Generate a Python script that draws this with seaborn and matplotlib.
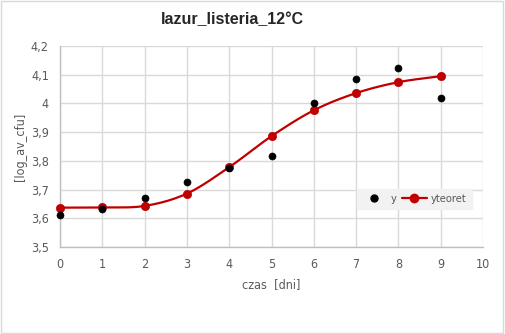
import numpy as np
import pandas as pd
import matplotlib
matplotlib.use('Agg')
import matplotlib.pyplot as plt
import seaborn as sns
from matplotlib.lines import Line2D
from matplotlib.patches import Rectangle

# dane
czas = [0, 1, 2, 3, 4, 5, 6, 7, 8, 9]
y = [3.611, 3.632, 3.669, 3.726, 3.776, 3.817, 4.002, 4.086, 4.125, 4.020]
yteoret = [3.637, 3.638, 3.643, 3.686, 3.778, 3.886, 3.976, 4.036, 4.074, 4.095]
xticks = [0, 1, 2, 3, 4, 5, 6, 7, 8, 9, 10]
yticks = [3.5, 3.6, 3.7, 3.8, 3.9, 4.0, 4.1, 4.2]
ytick_labels = ['3,5', '3,6', '3,7', '3,8', '3,9', '4', '4,1', '4,2']

df = pd.DataFrame({'czas': czas, 'y': y, 'yteoret': yteoret})


# wygladzona linia jak w Excelu (Catmull-Rom)
def smooth(xs, ys, n=20):
    xs = np.asarray(xs, float)
    ys = np.asarray(ys, float)
    px = np.concatenate([[2 * xs[0] - xs[1]], xs, [2 * xs[-1] - xs[-2]]])
    py = np.concatenate([[2 * ys[0] - ys[1]], ys, [2 * ys[-1] - ys[-2]]])
    ox, oy = [], []
    t = np.linspace(0, 1, n, endpoint=False)
    for i in range(1, len(px) - 2):
        for p, o in ((px, ox), (py, oy)):
            p0, p1, p2, p3 = p[i - 1], p[i], p[i + 1], p[i + 2]
            o.extend(0.5 * (2 * p1 + (-p0 + p2) * t + (2 * p0 - 5 * p1 + 4 * p2 - p3) * t ** 2
                            + (-p0 + 3 * p1 - 3 * p2 + p3) * t ** 3))
    ox.append(xs[-1])
    oy.append(ys[-1])
    return pd.DataFrame({'x': ox, 'y': oy})


sns.set_style('white')
plt.rcParams['font.family'] = ['DejaVu Sans']
plt.rcParams['font.stretch'] = 'condensed'

fig = plt.figure(figsize=(5.05, 3.34), dpi=100)
ax = fig.add_axes([60 / 505, 87 / 334, 423 / 505, 201 / 334])

red = '#C00000'
sm = smooth(czas, yteoret)
sns.lineplot(data=sm, x='x', y='y', ax=ax, color=red, linewidth=1.6, sort=False, zorder=3)
sns.scatterplot(data=df, x='czas', y='yteoret', ax=ax, color=red, s=36, edgecolor=red, zorder=4)
sns.scatterplot(data=df, x='czas', y='y', ax=ax, color='black', s=26, edgecolor='black', zorder=5)
for art in ax.lines + ax.collections:
    art.set_clip_on(False)

ax.set_xlim(0, 10)
ax.set_ylim(3.5, 4.2)
ax.set_xticks(xticks)
ax.set_yticks(yticks)
ax.set_yticklabels(ytick_labels)
ax.grid(True, color='#d9d9d9', linewidth=1)
ax.set_axisbelow(True)
for s in ['top', 'right']:
    ax.spines[s].set_visible(False)
for s in ['left', 'bottom']:
    ax.spines[s].set_color('#bfbfbf')
    ax.spines[s].set_linewidth(1)
ax.tick_params(axis='both', length=0, labelsize=9, colors='#595959', pad=8)

ax.set_xlabel('czas  [dni]', fontsize=9, color='#595959', labelpad=5)
ax.set_ylabel('[log_av_cfu]', fontsize=9, color='#595959', labelpad=3)

fig.text(232 / 505, 1 - 20 / 334, 'lazur_listeria_12°C', ha='center', va='center',
         fontsize=11.5, fontweight='bold', fontstretch='normal',
         family=['Liberation Sans', 'DejaVu Sans'])

handles = [
    Line2D([], [], marker='o', color='black', linestyle='none', markersize=5),
    Line2D([], [], marker='o', color=red, linewidth=1.6, markersize=6),
]
leg = ax.legend(handles, ['y', 'yteoret'], ncol=2, loc='upper left',
                bbox_to_anchor=(0.702, 0.289), borderaxespad=0,
                frameon=True, fancybox=False, facecolor='#f2f2f2', edgecolor='#f2f2f2',
                fontsize=8, handlelength=2.2, handletextpad=0.4, columnspacing=0.5,
                borderpad=0.45, labelcolor='#595959')
leg.get_frame().set_alpha(1)

fig.patches.append(Rectangle((0.002, 0.003), 0.994, 0.994, transform=fig.transFigure,
                             fill=False, edgecolor='#d9d9d9', linewidth=1))

plt.savefig('out.png', dpi=100)
